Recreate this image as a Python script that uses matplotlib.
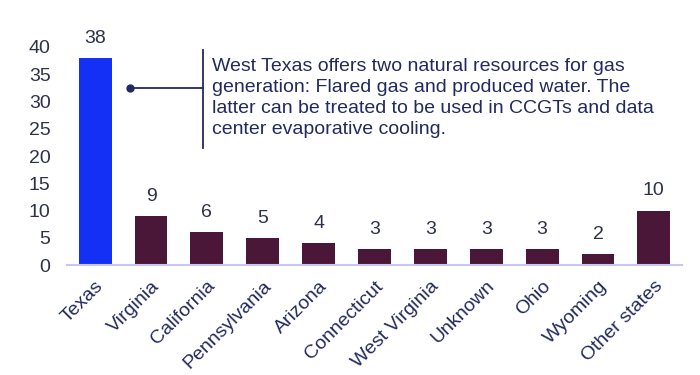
import numpy as np
import matplotlib.pyplot as plt

plt.rcParams['font.family'] = ['Liberation Sans', 'DejaVu Sans']

# Data
states = ['Texas', 'Virginia', 'California', 'Pennsylvania', 'Arizona',
          'Connecticut', 'West Virginia', 'Unknown', 'Ohio', 'Wyoming',
          'Other states']
counts = [38, 9, 6, 5, 4, 3, 3, 3, 3, 2, 10]
yticks = [0, 5, 10, 15, 20, 25, 30, 35, 40]

note = ('West Texas offers two natural resources for gas\n'
        'generation: Flared gas and produced water. The\n'
        'latter can be treated to be used in CCGTs and data\n'
        'center evaporative cooling.')

blue = '#1430f5'
maroon = '#4b1738'
navy = '#222a5e'
txt = '#2e3248'

fig = plt.figure(figsize=(7, 3.75), dpi=100)
ax = fig.add_axes([0.096, 0.293, 0.878, 0.64])

x = np.arange(len(states))
colors = [blue] + [maroon] * (len(states) - 1)
bars = ax.bar(x, counts, width=0.59, color=colors)

for xi, v in zip(x, counts):
    ax.annotate(str(v), (xi, v), xytext=(0, 8), textcoords='offset points',
                ha='center', va='bottom', fontsize=14, color=txt)

ax.set_xlim(-0.5, 10.5)
ax.set_ylim(0, 44)
ax.set_yticks(yticks)
ax.set_yticklabels([str(t) for t in yticks], fontsize=14, color=txt)
ax.set_xticks(x)
ax.set_xticklabels(states, rotation=45, ha='right', rotation_mode='anchor',
                   fontsize=14, color=navy)
ax.tick_params(length=0)
ax.tick_params(axis='y', pad=12)
ax.tick_params(axis='x', pad=9)

for s in ['top', 'right', 'left']:
    ax.spines[s].set_visible(False)
ax.spines['bottom'].set_color('#c8c8ee')
ax.spines['bottom'].set_linewidth(1.5)

# callout
ax.plot([0.62, 1.93], [32.5, 32.5], color=navy, lw=1.3)
ax.plot([0.62], [32.5], 'o', color=navy, ms=5)
ax.plot([1.93, 1.93], [21.5, 39.4], color=navy, lw=1.3)
ax.text(2.09, 37.9, note, fontsize=14, color=navy, va='top', ha='left',
        linespacing=1.3)

fig.savefig('out.png', dpi=100)
